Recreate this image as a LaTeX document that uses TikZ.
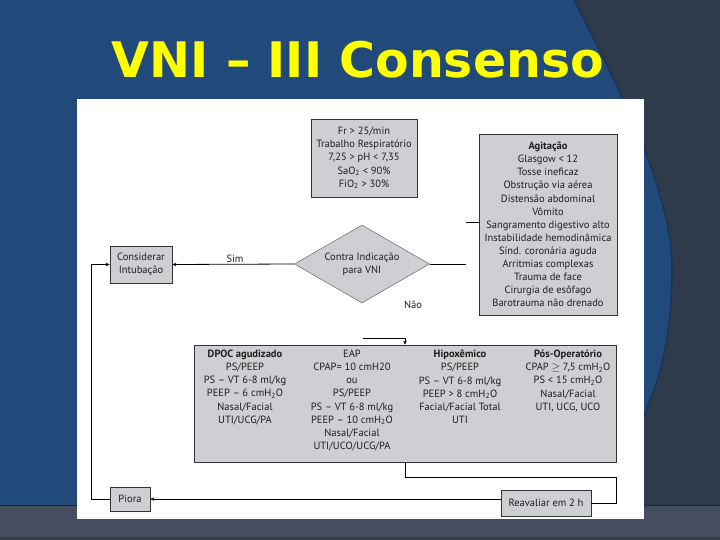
\documentclass[tikz,border=0pt]{standalone}
\usepackage{fontspec}
\setmainfont{PT Sans}
\newfontfamily\titlefont{DejaVu Sans}
\usetikzlibrary{arrows.meta,shapes.geometric,calc}
\definecolor{bgblue}{HTML}{21497A}
\definecolor{bgdark}{HTML}{2F3A4B}
\definecolor{bandgray}{HTML}{444E5E}
\definecolor{edgeblue}{HTML}{1A3558}
\definecolor{boxgray}{HTML}{CDCFD2}
\definecolor{txt}{HTML}{1E1E1E}
\definecolor{titleyellow}{HTML}{FFFF00}
\tikzset{
  gbox/.style={draw=black!80, line width=0.6pt, fill=boxgray, inner sep=0pt, text=txt,
    align=center, font=\fontsize{10.5}{13.1}\selectfont},
  lbl/.style={text=txt, inner sep=0pt, font=\fontsize{10.5}{13.1}\selectfont},
  coltxt/.style={text=txt, inner sep=0pt, align=center, anchor=north, font=\fontsize{10.5}{13.1}\selectfont},
  conn/.style={draw=black, line width=0.8pt},
  arr/.style={conn, -{Stealth[length=4pt,width=3.5pt]}}
}
\newcommand{\cmHO}{cmH\textsubscript{2}O}
\begin{document}
\begin{tikzpicture}[x=1pt,y=-1pt]
\useasboundingbox (0,0) rectangle (720,540);
% background
\fill[bgblue] (0,0) rectangle (720,540);
\fill[bgdark] (574,0) .. controls (615,80) and (672,190) .. (672,267)
  .. controls (672,330) and (662,372) .. (650,400) -- (612,505) -- (720,505) -- (720,0) -- cycle;
\draw[edgeblue, line width=1.5pt] (574,0) .. controls (615,80) and (672,190) .. (672,267)
  .. controls (672,330) and (662,372) .. (650,400) -- (612,505);
\fill[bandgray] (0,506) rectangle (720,540);
\draw[edgeblue!70!black, line width=1pt] (0,505.5) -- (720,505.5);
\fill[bandgray!80!black] (0,537) rectangle (720,540);
% title
\node[anchor=base, text=titleyellow, inner sep=0pt, font=\titlefont\bfseries\fontsize{49}{55}\selectfont] (title) at (358,78) {VNI – III Consenso};
% white panel
\fill[white] (77,99) rectangle (644,519);
% boxes
\node[gbox, minimum width=106pt, minimum height=78pt] (crit) at (364,158)
  {Fr > 25/min\\Trabalho Respiratório\\7,25 > pH < 7,35\\SaO\textsubscript{2} < 90\%\\FiO\textsubscript{2} > 30\%};
\node[gbox, minimum width=138pt, minimum height=181pt] (contra) at (548,224.5)
  {\textbf{Agitação}\\Glasgow < 12\\Tosse ineficaz\\Obstrução via aérea\\Distensão abdominal\\Vômito\\Sangramento digestivo alto\\Instabilidade hemodinâmica\\Sínd. coronária aguda\\Arritmias complexas\\Trauma de face\\Cirurgia de esôfago\\Barotrauma não drenado};
\node[gbox, shape=diamond, aspect=1.73, minimum width=135pt, minimum height=78pt, draw=black!60, line width=0.5pt] (dia) at (362,264)
  {Contra Indicação\\para VNI};
\node[gbox, minimum width=62pt, minimum height=37pt] (consid) at (141,264.5) {Considerar\\Intubação};
\node[gbox, minimum width=40pt, minimum height=24pt] (piora) at (130,499) {Piora};
\node[gbox, minimum width=90pt, minimum height=26pt] (reav) at (546,503) {Reavaliar em 2 h};
\node[gbox, minimum width=422pt, minimum height=117pt] (big) at (405,403.5) {};
% columns in big box
\node[coltxt] (c1) at (245,350) {\textbf{DPOC agudizado}\\PS/PEEP\\PS – VT 6-8 ml/kg\\PEEP – 6 \cmHO\\Nasal/Facial\\UTI/UCG/PA};
\node[coltxt] (c2) at (352,350) {EAP\\CPAP= 10 cmH20\\ou\\PS/PEEP\\PS – VT 6-8 ml/kg\\PEEP – 10 \cmHO\\Nasal/Facial\\UTI/UCO/UCG/PA};
\node[coltxt] (c3) at (460,350) {\textbf{Hipoxêmico}\\PS/PEEP\\PS – VT 6-8 ml/kg\\PEEP > 8 \cmHO\\Facial/Facial Total\\UTI};
\node[coltxt] (c4) at (568,350) {\textbf{Pós-Operatório}\\CPAP \ensuremath{\geq} 7,5 \cmHO\\PS < 15 \cmHO\\Nasal/Facial\\UTI, UCG, UCO};
% labels
\node[lbl] (sim) at (235,259) {Sim};
\node[lbl] (nao) at (413,305) {Não};
% connector coordinates
\coordinate (jr) at (466,264);
\coordinate (jb) at (466,222);
\coordinate (nl) at (363,338);
\coordinate (lc) at (91,264.5);
\coordinate (r1) at (616,477);
\coordinate (r2) at (616,503);
% connectors
\draw[arr] (dia.west) -- (consid.east);
\draw[conn] (dia.east) -- (jr);
\draw[conn] (jb) -- (jb -| contra.west);
\draw[arr] (nl) -| (big.north);
\draw[arr] (piora.west) -| (lc) -- (consid.west);
\draw[conn] (big.south) |- (r1) -- (r2) -- (reav.east);
\draw[arr] (reav.west |- piora.east) -- (piora.east);
\end{tikzpicture}
\end{document}
